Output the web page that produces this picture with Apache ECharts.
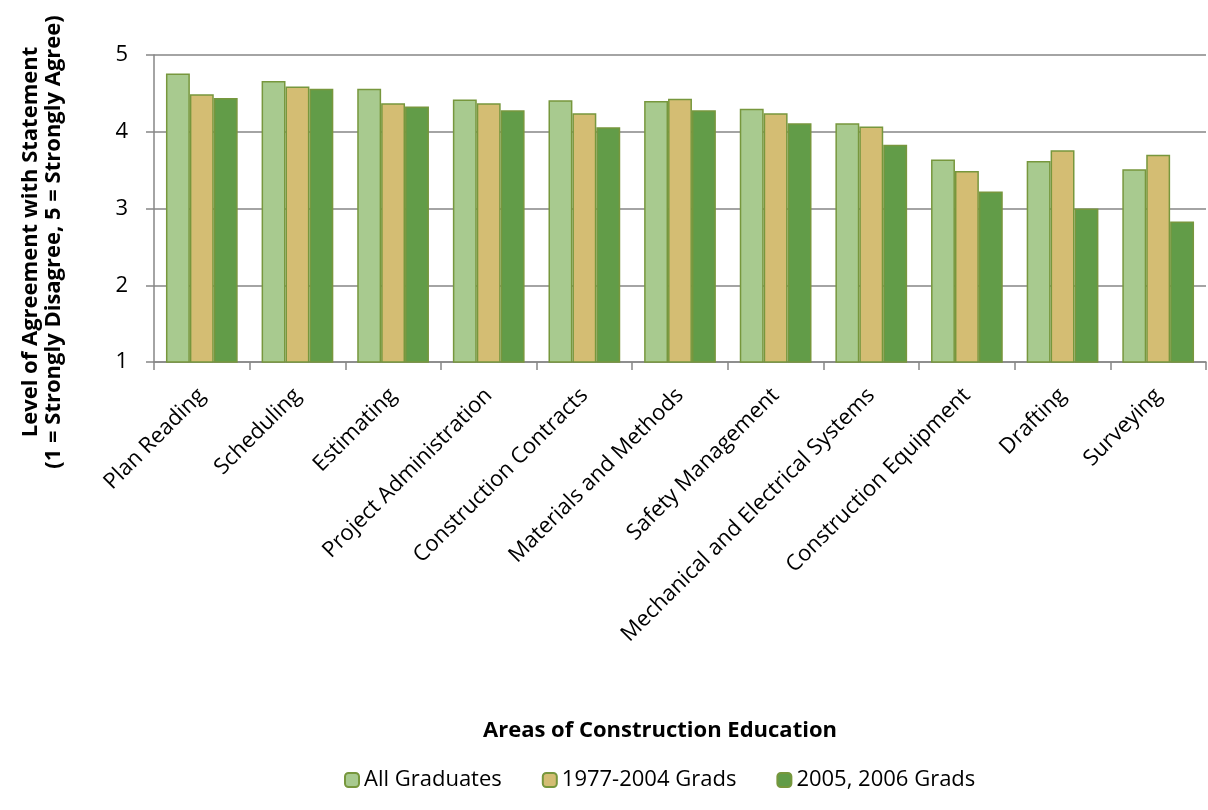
<!DOCTYPE html>
<html>
<head>
<meta charset="utf-8">
<script src="https://cdn.jsdelivr.net/npm/echarts@6/dist/echarts.min.js"></script>
<style>html,body{margin:0;padding:0;background:#fff;}#c{width:1208px;height:810px;}</style>
</head>
<body>
<div id="c"></div>
<script>
const categories = ["Plan Reading","Scheduling","Estimating","Project Administration","Construction Contracts","Materials and Methods","Safety Management","Mechanical and Electrical Systems","Construction Equipment","Drafting","Surveying"];
const seriesNames = ["All Graduates","1977-2004 Grads","2005, 2006 Grads"];
const allGraduates = [4.76,4.66,4.56,4.42,4.41,4.40,4.30,4.11,3.64,3.62,3.51];
const grads1977_2004 = [4.49,4.59,4.37,4.37,4.24,4.43,4.24,4.07,3.49,3.76,3.70];
const grads2005_2006 = [4.44,4.56,4.33,4.28,4.06,4.28,4.11,3.83,3.22,3.00,2.83];
const yTicks = [1,2,3,4,5];
const xTitle = 'Areas of Construction Education';
const yTitle1 = 'Level of Agreement with Statement';
const yTitle2 = '(1 = Strongly Disagree, 5 = Strongly Agree)';

const FONT = "'Open Sans', sans-serif";
const ctx = document.createElement('canvas').getContext('2d');
function fit(text, weight, target) {
  ctx.font = weight + " 100px 'Open Sans'";
  return Math.round(100 * target / ctx.measureText(text).width * 2) / 2;
}
const fsNormal = fit('All Graduates', 'normal', 138);
const fsLabel = fit('Mechanical and Electrical Systems', 'normal', 352);
const fsBold = fit(xTitle, 'bold', 355);

const colors = ["#a8ca8f","#d4bd73","#629c48"];
const border = "#77973d";
const datasets = [allGraduates, grads1977_2004, grads2005_2006];

const chart = echarts.init(document.getElementById('c'));
chart.setOption({
  animation: false,
  backgroundColor: '#fff',
  textStyle: {fontFamily: FONT},
  grid: {left: 154, right: 2, top: 55, bottom: 448, containLabel: false},
  legend: {
    left: 339, top: 764,
    itemWidth: 14, itemHeight: 14, itemGap: 40,
    textStyle: {fontFamily: FONT, fontSize: fsNormal, color: '#000'},
    data: seriesNames
  },
  xAxis: {
    type: 'category',
    data: categories,
    axisLine: {lineStyle: {color: '#868686', width: 1.5}},
    axisTick: {show: true, length: 8, lineStyle: {color: '#868686', width: 1.5}},
    axisLabel: {rotate: 45, fontFamily: FONT, fontSize: fsLabel, color: '#000', margin: 30, interval: 0}
  },
  yAxis: {
    type: 'value',
    min: yTicks[0], max: yTicks[yTicks.length-1], interval: 1,
    axisLine: {show: true, lineStyle: {color: '#868686', width: 1.5}},
    axisTick: {show: true, length: 8, lineStyle: {color: '#868686', width: 1.5}},
    axisLabel: {fontFamily: FONT, fontSize: fsNormal, color: '#000', margin: 26},
    splitLine: {lineStyle: {color: '#868686', width: 1.5}}
  },
  graphic: [
    {type: 'text', x: 660, y: 731,
     style: {text: xTitle, font: "bold " + fsBold + "px 'Open Sans', sans-serif", fill: '#000', textAlign: 'center', textVerticalAlign: 'middle'}},
    {type: 'text', x: 31, y: 242, rotation: Math.PI/2,
     style: {text: yTitle1, font: "bold " + fsBold + "px 'Open Sans', sans-serif", fill: '#000', textAlign: 'center', textVerticalAlign: 'middle'}},
    {type: 'text', x: 54, y: 242, rotation: Math.PI/2,
     style: {text: yTitle2, font: "bold " + fsBold + "px 'Open Sans', sans-serif", fill: '#000', textAlign: 'center', textVerticalAlign: 'middle'}}
  ],
  series: seriesNames.map((n, i) => ({
    name: n, type: 'bar',
    data: datasets[i],
    barGap: '0%', barCategoryGap: '25%',
    itemStyle: {color: colors[i], borderColor: border, borderWidth: 1.5}
  }))
});
</script>
</body>
</html>
